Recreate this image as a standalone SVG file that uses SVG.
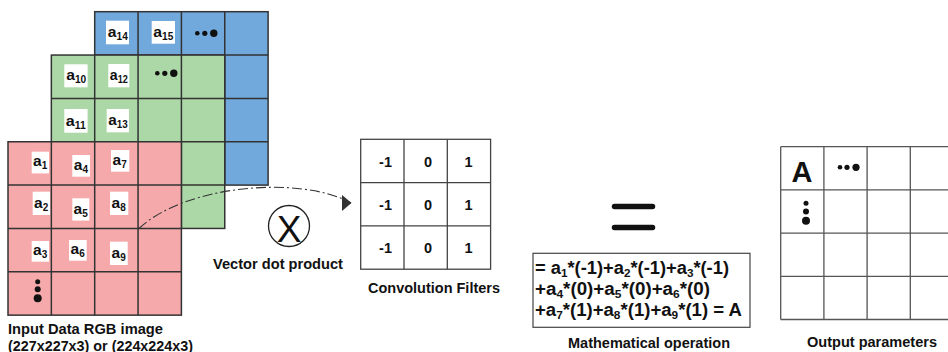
<svg xmlns="http://www.w3.org/2000/svg" width="948" height="352" viewBox="0 0 948 352">
  <style>
    text { font-family: "Liberation Sans", Arial, sans-serif; fill: #111; }
    .b { font-weight: bold; }
    .lbl { font-weight: bold; font-size: 15.5px; }
    .cell { font-weight: bold; font-size: 15.5px; }
    .sub { font-size: 10px; }
    .esub { font-size: 11.5px; }
    .grid { stroke: #333; stroke-width: 1.5; }
    .ogrid { stroke: #555; stroke-width: 1.3; fill: none; }
    .tag { fill: #fff; }
    .dot { fill: #111; }
  </style>
  <defs>
    <marker id="arrowhead" markerWidth="12" markerHeight="20" refX="9.5" refY="8.5" orient="0" markerUnits="userSpaceOnUse">
      <path d="M0,0 L10,8.5 L0,17 Z" fill="#333"/>
    </marker>
  </defs>

  <!-- blue channel (back) -->
  <g id="channel-blue">
    <rect x="94.7" y="11.7" width="173.4" height="173.4" fill="#72a9dd" class="grid"/>
    <path class="grid" fill="none" d="M138.05,11.7V185.1M181.4,11.7V185.1M224.75,11.7V185.1M94.7,55.05H268.1M94.7,98.4H268.1M94.7,141.75H268.1"/>
    <rect class="tag" x="106" y="20.7" width="23" height="23.6"/>
    <text class="cell" x="107.8" y="37.3" textLength="20" lengthAdjust="spacingAndGlyphs">a<tspan class="sub" dy="3">14</tspan></text>
    <rect class="tag" x="151.7" y="21" width="23.3" height="22.7"/>
    <text class="cell" x="153.3" y="37.3" textLength="20" lengthAdjust="spacingAndGlyphs">a<tspan class="sub" dy="3">15</tspan></text>
    <circle class="dot" cx="197.3" cy="33.3" r="2.3"/>
    <circle class="dot" cx="204.8" cy="33.3" r="2.6"/>
    <circle class="dot" cx="213.8" cy="33.3" r="3.7"/>
  </g>

  <!-- green channel (middle) -->
  <g id="channel-green">
    <rect x="51.35" y="55.05" width="173.4" height="173.4" fill="#acd8a7" class="grid"/>
    <path class="grid" fill="none" d="M94.7,55.05V228.45M138.05,55.05V228.45M181.4,55.05V228.45M51.35,98.4H224.75M51.35,141.75H224.75M51.35,185.1H224.75"/>
    <rect class="tag" x="64.3" y="64.3" width="23.3" height="23"/>
    <text class="cell" x="66.2" y="80.3" textLength="20" lengthAdjust="spacingAndGlyphs">a<tspan class="sub" dy="3">10</tspan></text>
    <rect class="tag" x="108.3" y="64" width="21" height="23.3"/>
    <text class="cell" x="109.8" y="80.3" textLength="18" lengthAdjust="spacingAndGlyphs">a<tspan class="sub" dy="3">12</tspan></text>
    <circle class="dot" cx="157.3" cy="73.3" r="2.3"/>
    <circle class="dot" cx="164.8" cy="73.3" r="2.6"/>
    <circle class="dot" cx="173.8" cy="73.3" r="3.7"/>
    <rect class="tag" x="64.3" y="109" width="23.3" height="23.7"/>
    <text class="cell" x="65.8" y="125.5" textLength="20" lengthAdjust="spacingAndGlyphs">a<tspan class="sub" dy="3">11</tspan></text>
    <rect class="tag" x="106.7" y="109" width="22.3" height="23.3"/>
    <text class="cell" x="108.3" y="125.3" textLength="19.5" lengthAdjust="spacingAndGlyphs">a<tspan class="sub" dy="3">13</tspan></text>
  </g>

  <!-- red channel (front) -->
  <g id="channel-red">
    <rect x="8" y="141.75" width="173.4" height="173.4" fill="#f5a9ab" class="grid"/>
    <path class="grid" fill="none" d="M51.35,141.75V315.15M94.7,141.75V315.15M138.05,141.75V315.15M8,185.1H181.4M8,228.45H181.4M8,271.8H181.4"/>
    <rect class="tag" x="31.7" y="151.7" width="17.3" height="21.7"/>
    <text class="cell" x="33" y="166.4">a<tspan class="sub" dy="3">1</tspan></text>
    <rect class="tag" x="72.3" y="155" width="17.7" height="21.7"/>
    <text class="cell" x="73.8" y="169.7">a<tspan class="sub" dy="3">4</tspan></text>
    <rect class="tag" x="111" y="150" width="18.3" height="21.7"/>
    <text class="cell" x="112.5" y="164.7">a<tspan class="sub" dy="3">7</tspan></text>
    <rect class="tag" x="32.7" y="191.7" width="17.3" height="23.3"/>
    <text class="cell" x="34" y="208">a<tspan class="sub" dy="3">2</tspan></text>
    <rect class="tag" x="72.3" y="198.3" width="17" height="22.3"/>
    <text class="cell" x="73.6" y="213.6">a<tspan class="sub" dy="3">5</tspan></text>
    <rect class="tag" x="110" y="191.7" width="18.3" height="23.3"/>
    <text class="cell" x="111.5" y="208">a<tspan class="sub" dy="3">8</tspan></text>
    <rect class="tag" x="31.7" y="241" width="17.3" height="20.7"/>
    <text class="cell" x="33" y="254.7">a<tspan class="sub" dy="3">3</tspan></text>
    <rect class="tag" x="69" y="240" width="17.7" height="20.7"/>
    <text class="cell" x="70.5" y="253.7">a<tspan class="sub" dy="3">6</tspan></text>
    <rect class="tag" x="110" y="241.7" width="17.7" height="23.3"/>
    <text class="cell" x="111.5" y="258">a<tspan class="sub" dy="3">9</tspan></text>
    <circle class="dot" cx="37.7" cy="281.7" r="2.5"/>
    <circle class="dot" cx="37.7" cy="289.2" r="3"/>
    <circle class="dot" cx="37.7" cy="298.3" r="4"/>
  </g>

  <g id="input-label">
    <text class="lbl" x="8" y="334" textLength="155" lengthAdjust="spacingAndGlyphs">Input Data RGB image</text>
    <text class="lbl" x="8" y="350.5" textLength="185" lengthAdjust="spacingAndGlyphs">(227x227x3) or (224x224x3)</text>
  </g>

  <!-- connectors -->
  <g id="connectors">
    <path d="M139,228.5 C185,185 300,175 351,203" fill="none" stroke="#333" stroke-width="1.1" stroke-dasharray="10,3,2,3" marker-end="url(#arrowhead)"/>
  </g>

  <!-- dot product operator -->
  <g id="dot-product">
    <circle cx="289" cy="226" r="20.5" fill="#fff" stroke="#222" stroke-width="1.3"/>
    <text x="289" y="241.5" font-size="37" text-anchor="middle">X</text>
    <text class="lbl" x="213" y="268.5" textLength="130" lengthAdjust="spacingAndGlyphs">Vector dot product</text>
  </g>

  <!-- convolution filter -->
  <g id="filter">
    <rect x="360.7" y="139.3" width="129.9" height="129.9" fill="#fff" stroke="#444" stroke-width="1.3"/>
    <path d="M404,139.3V269.2M447.3,139.3V269.2M360.7,182.6H490.6M360.7,225.9H490.6" stroke="#444" stroke-width="1.3" fill="none"/>
    <g class="b" font-size="14.5">
      <text x="385.5" y="166.5" text-anchor="middle">-1</text>
      <text x="428" y="166.5" text-anchor="middle">0</text>
      <text x="468.5" y="166.5" text-anchor="middle">1</text>
      <text x="385.5" y="210" text-anchor="middle">-1</text>
      <text x="428" y="210" text-anchor="middle">0</text>
      <text x="468.5" y="210" text-anchor="middle">1</text>
      <text x="385.5" y="253" text-anchor="middle">-1</text>
      <text x="428" y="253" text-anchor="middle">0</text>
      <text x="468.5" y="253" text-anchor="middle">1</text>
    </g>
    <text class="lbl" x="368" y="292.5" textLength="132" lengthAdjust="spacingAndGlyphs">Convolution Filters</text>
  </g>

  <!-- equals sign -->
  <g id="equals">
    <path d="M614.5,206.5H652.5M614.5,227.5H652.5" stroke="#111" stroke-width="5.5" stroke-linecap="round"/>
  </g>

  <!-- weighted sum -->
  <g id="math-operation">
    <rect x="533" y="253.3" width="217" height="74" fill="#fff" stroke="#444" stroke-width="1.2"/>
    <g class="b" font-size="18">
      <text x="535" y="273.5" textLength="194" lengthAdjust="spacingAndGlyphs">= a<tspan class="esub" dy="3">1</tspan><tspan dy="-3">*(-1)+a</tspan><tspan class="esub" dy="3">2</tspan><tspan dy="-3">*(-1)+a</tspan><tspan class="esub" dy="3">3</tspan><tspan dy="-3">*(-1)</tspan></text>
      <text x="535" y="294.5" textLength="175" lengthAdjust="spacingAndGlyphs">+a<tspan class="esub" dy="3">4</tspan><tspan dy="-3">*(0)+a</tspan><tspan class="esub" dy="3">5</tspan><tspan dy="-3">*(0)+a</tspan><tspan class="esub" dy="3">6</tspan><tspan dy="-3">*(0)</tspan></text>
      <text x="535" y="315.5" textLength="207" lengthAdjust="spacingAndGlyphs">+a<tspan class="esub" dy="3">7</tspan><tspan dy="-3">*(1)+a</tspan><tspan class="esub" dy="3">8</tspan><tspan dy="-3">*(1)+a</tspan><tspan class="esub" dy="3">9</tspan><tspan dy="-3">*(1) = A</tspan></text>
    </g>
    <text class="lbl" x="568" y="348" textLength="162" lengthAdjust="spacingAndGlyphs">Mathematical operation</text>
  </g>

  <!-- output feature map -->
  <g id="output">
    <path class="ogrid" d="M780.7,146.7H948M780.7,189.9H948M780.7,233.1H948M780.7,276.3H948M780.7,319.5H948M780.7,146.7V319.5M823.9,146.7V319.5M867.1,146.7V319.5M910.3,146.7V319.5"/>
    <text class="b" x="802" y="182.3" font-size="29" text-anchor="middle">A</text>
    <circle class="dot" cx="840" cy="167.3" r="2.3"/>
    <circle class="dot" cx="847" cy="167.3" r="2.6"/>
    <circle class="dot" cx="856" cy="167.3" r="3.6"/>
    <circle class="dot" cx="806" cy="203.3" r="2.5"/>
    <circle class="dot" cx="806" cy="211.6" r="3"/>
    <circle class="dot" cx="806" cy="220.7" r="4"/>
    <text class="lbl" x="807" y="346.5" textLength="130" lengthAdjust="spacingAndGlyphs">Output parameters</text>
  </g>
</svg>
